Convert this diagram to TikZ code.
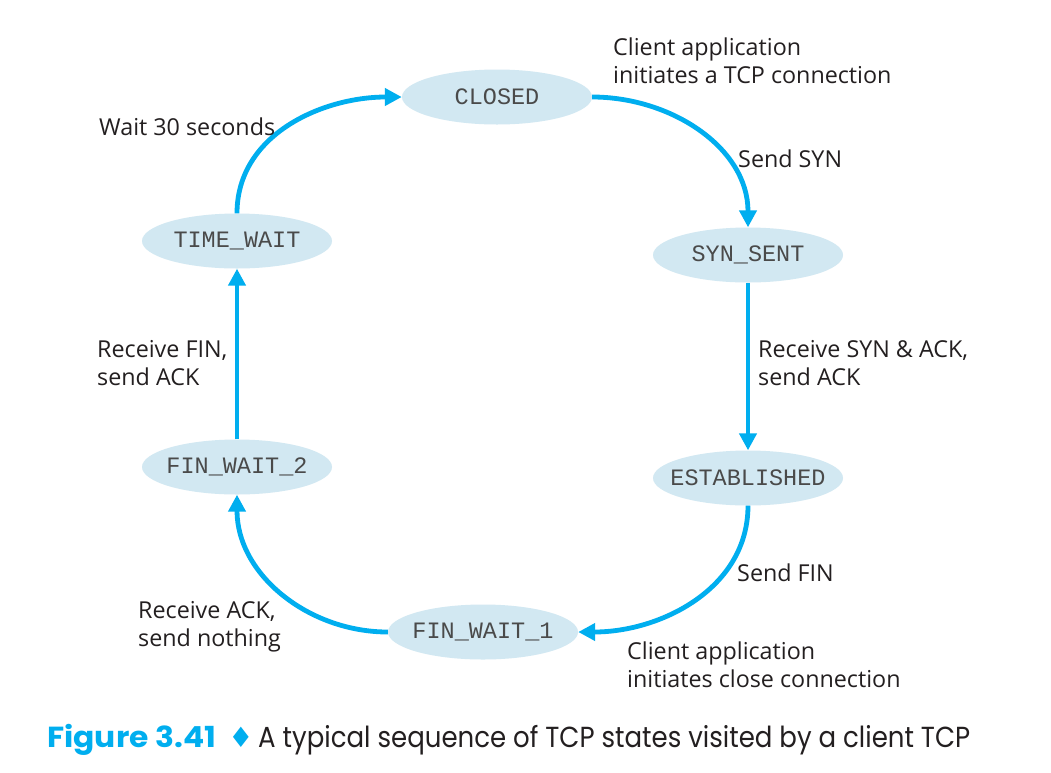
\documentclass[tikz,border=0pt]{standalone}
\usepackage{fontspec}
\setmainfont{Open Sans}
\newfontfamily\statefont{Liberation Mono}
\newfontfamily\capfont{Poppins}
\newfontfamily\symfont{DejaVu Sans}
\usetikzlibrary{shapes.geometric,arrows.meta}
\definecolor{arrowblue}{HTML}{00AEEF}
\definecolor{statefill}{HTML}{D2E8F2}
\definecolor{statetext}{HTML}{4A4A4A}
\definecolor{labeltext}{HTML}{231F20}
\tikzset{
  state/.style={ellipse, fill=statefill, minimum width=190pt, minimum height=55pt, inner sep=0pt},
  statelbl/.style={inner sep=0pt, font=\statefont\fontsize{23.5}{24}\selectfont, text=statetext},
  trans/.style={draw=arrowblue, line width=4.8pt, -{Triangle[length=17pt,width=17pt]}},
  lbl/.style={align=left, anchor=base west, inner sep=0pt, text=labeltext,
    font=\fontsize{23.3}{28}\selectfont}
}
\begin{document}
\begin{tikzpicture}[x=1pt,y=-1pt]
\useasboundingbox (0,0) rectangle (1051,772);
\fill[white] (0,0) rectangle (1051,772);

\node[state, label={[statelbl]center:CLOSED}] (closed) at (497,97) {};
\node[state, label={[statelbl]center:SYN\_SENT}] (synsent) at (748,255) {};
\node[state, label={[statelbl]center:ESTABLISHED}] (est) at (748,478) {};
\node[state, label={[statelbl]center:FIN\_WAIT\_1}] (fw1) at (483,632) {};
\node[state, label={[statelbl]center:FIN\_WAIT\_2}] (fw2) at (237,467) {};
\node[state, label={[statelbl]center:TIME\_WAIT}] (tw) at (237,241) {};

\draw[trans] (closed.east) to[out=0,in=90] (synsent.north);
\draw[trans] (synsent.south) -- (est.north);
\draw[trans] (est.south) to[out=-90,in=0] (fw1.east);
\draw[trans] (fw1.west) to[out=180,in=-90] (fw2.south);
\draw[trans] (fw2.north) -- (tw.south);
\draw[trans] (tw.north) to[out=90,in=180] (closed.west);

\node[lbl] (l1) at (613,83) {Client application\\initiates a TCP connection};
\node[lbl] (l2) at (738,167) {Send SYN};
\node[lbl] (l3) at (758,385) {Receive SYN \& ACK,\\send ACK};
\node[lbl] (l4) at (737,581) {Send FIN};
\node[lbl] (l5) at (627,687) {Client application\\initiates close connection};
\node[lbl] (l6) at (138,646) {Receive ACK,\\send nothing};
\node[lbl] (l7) at (97,385) {Receive FIN,\\send ACK};
\node[lbl] (l8) at (99,135) {Wait 30 seconds};

\node[anchor=base west, inner sep=0pt, text=arrowblue] (capa) at (47,747)
  {\capfont\bfseries\fontsize{29}{30}\selectfont\resizebox{169pt}{\height}{Figure 3.41}};
\node[inner sep=0pt, text=arrowblue] (capb) at (241,737)
  {\symfont\fontsize{28}{28}\selectfont ♦};
\node[anchor=base west, inner sep=0pt, text=labeltext] (capc) at (258,747)
  {\capfont\fontsize{29}{30}\selectfont\resizebox{712pt}{\height}{A typical sequence of TCP states visited by a client TCP}};
\end{tikzpicture}
\end{document}
